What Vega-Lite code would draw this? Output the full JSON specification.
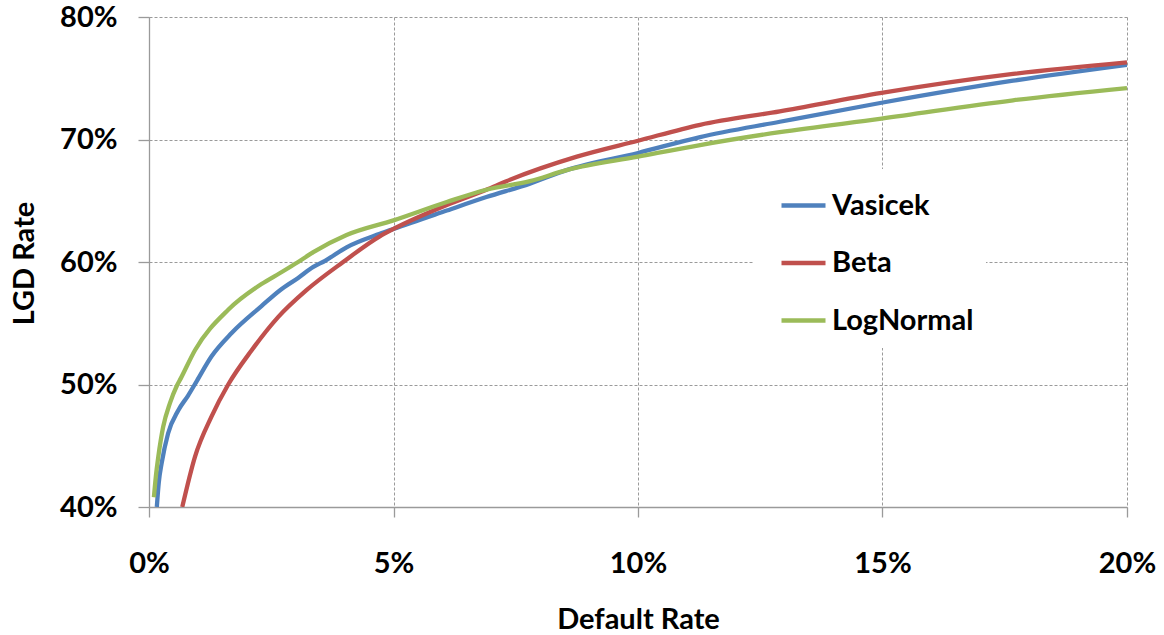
{
  "$schema": "https://vega.github.io/schema/vega-lite/v6.json",
  "width": 978,
  "height": 490,
  "autosize": "none",
  "padding": {"left": 149, "top": 17, "right": 37, "bottom": 128},
  "background": "white",
  "config": {"font": "Lato", "view": {"stroke": null}},
  "data": {"values": [
    {"m": "Vasicek", "dr": 0.0016, "lgd": 0.400},
    {"m": "Vasicek", "dr": 0.0020, "lgd": 0.420},
    {"m": "Vasicek", "dr": 0.0026, "lgd": 0.436},
    {"m": "Vasicek", "dr": 0.0039, "lgd": 0.460},
    {"m": "Vasicek", "dr": 0.0060, "lgd": 0.479},
    {"m": "Vasicek", "dr": 0.0080, "lgd": 0.491},
    {"m": "Vasicek", "dr": 0.0098, "lgd": 0.503},
    {"m": "Vasicek", "dr": 0.0128, "lgd": 0.523},
    {"m": "Vasicek", "dr": 0.0169, "lgd": 0.542},
    {"m": "Vasicek", "dr": 0.0230, "lgd": 0.564},
    {"m": "Vasicek", "dr": 0.0268, "lgd": 0.577},
    {"m": "Vasicek", "dr": 0.0305, "lgd": 0.587},
    {"m": "Vasicek", "dr": 0.0336, "lgd": 0.596},
    {"m": "Vasicek", "dr": 0.0360, "lgd": 0.601},
    {"m": "Vasicek", "dr": 0.0404, "lgd": 0.612},
    {"m": "Vasicek", "dr": 0.0472, "lgd": 0.623},
    {"m": "Vasicek", "dr": 0.0500, "lgd": 0.627},
    {"m": "Vasicek", "dr": 0.0609, "lgd": 0.642},
    {"m": "Vasicek", "dr": 0.0690, "lgd": 0.653},
    {"m": "Vasicek", "dr": 0.0779, "lgd": 0.664},
    {"m": "Vasicek", "dr": 0.0854, "lgd": 0.675},
    {"m": "Vasicek", "dr": 0.1000, "lgd": 0.689},
    {"m": "Vasicek", "dr": 0.1127, "lgd": 0.702},
    {"m": "Vasicek", "dr": 0.1290, "lgd": 0.7145},
    {"m": "Vasicek", "dr": 0.1498, "lgd": 0.730},
    {"m": "Vasicek", "dr": 0.1767, "lgd": 0.748},
    {"m": "Vasicek", "dr": 0.2000, "lgd": 0.761},
    {"m": "Beta", "dr": 0.0068, "lgd": 0.400},
    {"m": "Beta", "dr": 0.0094, "lgd": 0.441},
    {"m": "Beta", "dr": 0.0128, "lgd": 0.474},
    {"m": "Beta", "dr": 0.0162, "lgd": 0.500},
    {"m": "Beta", "dr": 0.0210, "lgd": 0.528},
    {"m": "Beta", "dr": 0.0264, "lgd": 0.555},
    {"m": "Beta", "dr": 0.0322, "lgd": 0.577},
    {"m": "Beta", "dr": 0.0397, "lgd": 0.600},
    {"m": "Beta", "dr": 0.0472, "lgd": 0.621},
    {"m": "Beta", "dr": 0.0500, "lgd": 0.627},
    {"m": "Beta", "dr": 0.0609, "lgd": 0.6465},
    {"m": "Beta", "dr": 0.0690, "lgd": 0.659},
    {"m": "Beta", "dr": 0.0731, "lgd": 0.666},
    {"m": "Beta", "dr": 0.0875, "lgd": 0.686},
    {"m": "Beta", "dr": 0.1000, "lgd": 0.699},
    {"m": "Beta", "dr": 0.1127, "lgd": 0.712},
    {"m": "Beta", "dr": 0.1290, "lgd": 0.723},
    {"m": "Beta", "dr": 0.1498, "lgd": 0.738},
    {"m": "Beta", "dr": 0.1767, "lgd": 0.7535},
    {"m": "Beta", "dr": 0.2000, "lgd": 0.763},
    {"m": "LogNormal", "dr": 0.0010, "lgd": 0.408},
    {"m": "LogNormal", "dr": 0.0014, "lgd": 0.425},
    {"m": "LogNormal", "dr": 0.0019, "lgd": 0.441},
    {"m": "LogNormal", "dr": 0.0029, "lgd": 0.4655},
    {"m": "LogNormal", "dr": 0.0043, "lgd": 0.485},
    {"m": "LogNormal", "dr": 0.0057, "lgd": 0.499},
    {"m": "LogNormal", "dr": 0.0065, "lgd": 0.505},
    {"m": "LogNormal", "dr": 0.0094, "lgd": 0.528},
    {"m": "LogNormal", "dr": 0.0162, "lgd": 0.561},
    {"m": "LogNormal", "dr": 0.0230, "lgd": 0.582},
    {"m": "LogNormal", "dr": 0.0268, "lgd": 0.591},
    {"m": "LogNormal", "dr": 0.0305, "lgd": 0.600},
    {"m": "LogNormal", "dr": 0.0336, "lgd": 0.608},
    {"m": "LogNormal", "dr": 0.0404, "lgd": 0.622},
    {"m": "LogNormal", "dr": 0.0500, "lgd": 0.634},
    {"m": "LogNormal", "dr": 0.0609, "lgd": 0.649},
    {"m": "LogNormal", "dr": 0.0690, "lgd": 0.659},
    {"m": "LogNormal", "dr": 0.0779, "lgd": 0.666},
    {"m": "LogNormal", "dr": 0.0854, "lgd": 0.675},
    {"m": "LogNormal", "dr": 0.1000, "lgd": 0.686},
    {"m": "LogNormal", "dr": 0.1127, "lgd": 0.6955},
    {"m": "LogNormal", "dr": 0.1290, "lgd": 0.706},
    {"m": "LogNormal", "dr": 0.1498, "lgd": 0.717},
    {"m": "LogNormal", "dr": 0.1767, "lgd": 0.732},
    {"m": "LogNormal", "dr": 0.2000, "lgd": 0.742}
  ]},
  "mark": {"type": "line", "strokeWidth": 4.3, "clip": true, "interpolate": "monotone"},
  "encoding": {
    "x": {
      "field": "dr", "type": "quantitative",
      "scale": {"domain": [0, 0.2], "nice": false, "zero": false},
      "axis": {
        "title": "Default Rate", "format": ".0%", "values": [0, 0.05, 0.1, 0.15, 0.2],
        "grid": true, "gridDash": [3, 2], "gridColor": "#9a9a9a", "gridWidth": 1,
        "domainColor": "#9a9a9a", "domainWidth": 1.3,
        "tickColor": "#9a9a9a", "tickSize": 10, "tickWidth": 1.3,
        "labelFont": "Lato", "labelFontWeight": "bold", "labelFontSize": 29, "labelColor": "black",
        "labelPadding": 32, "labelFlush": false,
        "titleFont": "Lato", "titleFontWeight": "bold", "titleFontSize": 29, "titleColor": "black",
        "titleX": 489, "titleY": 121, "titleBaseline": "alphabetic", "titleAlign": "center"
      }
    },
    "y": {
      "field": "lgd", "type": "quantitative",
      "scale": {"domain": [0.4, 0.8], "nice": false, "zero": false},
      "axis": {
        "title": "LGD Rate", "format": ".0%", "values": [0.4, 0.5, 0.6, 0.7, 0.8],
        "grid": true, "gridDash": [3, 2], "gridColor": "#9a9a9a", "gridWidth": 1,
        "domainColor": "#9a9a9a", "domainWidth": 1.3,
        "tickColor": "#9a9a9a", "tickSize": 11, "tickWidth": 1.3,
        "labelFont": "Lato", "labelFontWeight": "bold", "labelFontSize": 29, "labelColor": "black",
        "labelPadding": 21, "labelFlush": false,
        "titleFont": "Lato", "titleFontWeight": "bold", "titleFontSize": 29, "titleColor": "black",
        "titleAngle": -90, "titleX": -116, "titleY": 246, "titleBaseline": "alphabetic", "titleAlign": "center"
      }
    },
    "color": {
      "field": "m", "type": "nominal",
      "scale": {"domain": ["Vasicek", "Beta", "LogNormal"], "range": ["#4F81BD", "#C0504D", "#9BBB59"]},
      "legend": {
        "title": null, "orient": "none", "legendX": 604, "legendY": 152,
        "fillColor": "white", "padding": 12, "symbolOffset": 14,
        "symbolType": "stroke", "symbolSize": 1936, "symbolStrokeWidth": 4.3,
        "labelFont": "Lato", "labelFontWeight": "bold", "labelFontSize": 29, "labelColor": "black",
        "labelOffset": 4, "rowPadding": 17.5
      }
    }
  }
}
